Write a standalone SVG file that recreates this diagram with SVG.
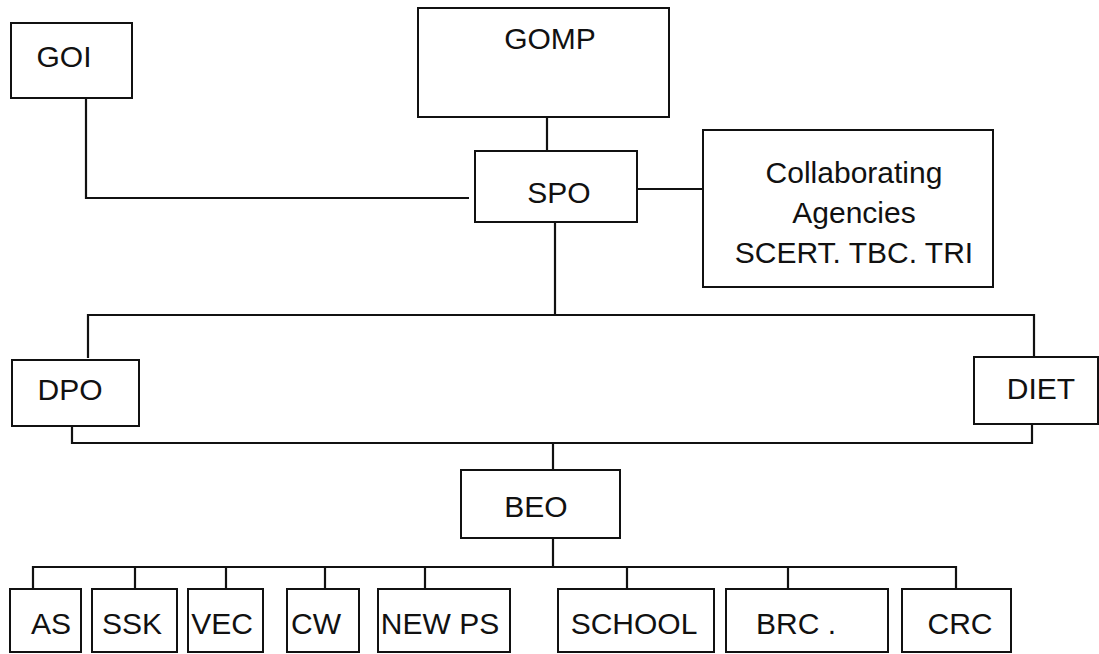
<svg xmlns="http://www.w3.org/2000/svg" width="1099" height="654" viewBox="0 0 1099 654">
<style>
.box{fill:#fff;stroke:#111;stroke-width:2}
.lbl{font-family:"Liberation Sans",Arial,sans-serif;font-size:30px;fill:#111;text-anchor:middle}
.con{fill:none;stroke:#111;stroke-width:2.2}
</style>
<rect width="1099" height="654" fill="#fff"/>
<g id="connectors">
<path class="con" d="M86 98 V198 H469"/>
<path class="con" d="M547 117 V152"/>
<path class="con" d="M637 189 H703"/>
<path class="con" d="M555 222 V315"/>
<path class="con" d="M88 358 V315 H1034 V357"/>
<path class="con" d="M72 426 V443 H1032 V424"/>
<path class="con" d="M553 443 V470"/>
<path class="con" d="M553 538 V567"/>
<path class="con" d="M33 589 V567 H956 V589"/>
<path class="con" d="M135 567 V589 M226 567 V589 M325 567 V589 M425 567 V589 M627 567 V589 M788 567 V589"/>
</g>
<g id="GOI"><rect class="box" x="11" y="23" width="121" height="75"/><text class="lbl" x="64" y="67">GOI</text></g>
<g id="GOMP"><rect class="box" x="418" y="8" width="251" height="109"/><text class="lbl" x="550" y="49">GOMP</text></g>
<g id="SPO"><rect class="box" x="475" y="151" width="162" height="71"/><text class="lbl" x="559" y="203">SPO</text></g>
<g id="Collab"><rect class="box" x="703" y="130" width="290" height="157"/>
<text class="lbl" x="854" y="183">Collaborating</text>
<text class="lbl" x="854" y="223">Agencies</text>
<text class="lbl" x="854" y="263">SCERT. TBC. TRI</text></g>
<g id="DPO"><rect class="box" x="12" y="360" width="127" height="66"/><text class="lbl" x="70" y="400">DPO</text></g>
<g id="DIET"><rect class="box" x="974" y="357" width="124" height="67"/><text class="lbl" x="1041" y="399">DIET</text></g>
<g id="BEO"><rect class="box" x="461" y="470" width="159" height="68"/><text class="lbl" x="536" y="517">BEO</text></g>
<g id="AS"><rect class="box" x="10" y="589" width="71" height="63"/><text class="lbl" x="51" y="634">AS</text></g>
<g id="SSK"><rect class="box" x="92" y="589" width="85" height="63"/><text class="lbl" x="132" y="634">SSK</text></g>
<g id="VEC"><rect class="box" x="188" y="589" width="75" height="63"/><text class="lbl" x="222" y="634">VEC</text></g>
<g id="CW"><rect class="box" x="287" y="589" width="72" height="63"/><text class="lbl" x="316" y="634">CW</text></g>
<g id="NEWPS"><rect class="box" x="378" y="589" width="132" height="63"/><text class="lbl" x="440" y="634">NEW PS</text></g>
<g id="SCHOOL"><rect class="box" x="558" y="589" width="156" height="63"/><text class="lbl" x="634" y="634">SCHOOL</text></g>
<g id="BRC"><rect class="box" x="726" y="589" width="162" height="63"/><text class="lbl" x="796" y="634">BRC .</text></g>
<g id="CRC"><rect class="box" x="902" y="589" width="109" height="63"/><text class="lbl" x="960" y="634">CRC</text></g>
</svg>
